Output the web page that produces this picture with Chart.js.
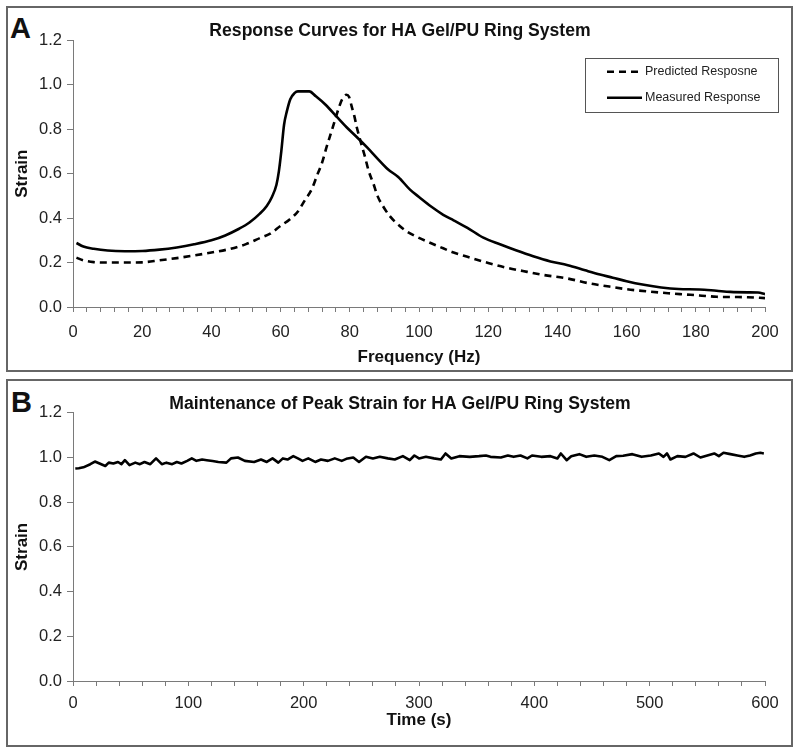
<!DOCTYPE html>
<html><head><meta charset="utf-8">
<script src="https://cdn.jsdelivr.net/npm/chart.js@4.4.1/dist/chart.umd.min.js"></script>
<style>
html,body{margin:0;padding:0;background:#fff;width:800px;height:754px;overflow:hidden;}
.cv{position:absolute;left:0;}
.box{position:absolute;box-sizing:border-box;border:2px solid #666;pointer-events:none;}
.lab{position:absolute;font:bold 29px "Liberation Sans",Arial,sans-serif;line-height:29px;color:#111;}
</style></head><body>
<div class="box" style="left:6px;top:6px;width:787px;height:366px"></div>
<div class="box" style="left:6px;top:379px;width:787px;height:368px"></div>
<div class="lab" style="left:10px;top:13.8px">A</div>
<div class="lab" style="left:11px;top:388.2px">B</div>
<div class="cv" style="top:0;width:800px;height:376px"><canvas id="chartA"></canvas></div>
<div class="cv" style="top:376px;width:800px;height:378px"><canvas id="chartB"></canvas></div>
<script>
// ---- Panel A data ----
const titleA = 'Response Curves for HA Gel/PU Ring System';
const xTitleA = 'Frequency (Hz)';
const seriesNamesA = ['Predicted Resposne', 'Measured Response'];
const freqPred = [1,3,6,10,15,20,25,30,35,40,45,50,54,57,60,62.7,65,67,69,70.5,72,73.3,74.5,75.7,76.8,77.8,79,79.8,80.5,81.3,82,83.2,84.4,85.5,86.8,88,89.7,91.5,93.6,96,99.3,103,107,110,114,120,125,130,136,142.7,149,155,160,166.8,172,176.4,181,186,190,195,200];
const strainPred = [0.222,0.210,0.202,0.200,0.200,0.201,0.210,0.220,0.232,0.245,0.260,0.283,0.310,0.330,0.365,0.395,0.430,0.480,0.530,0.590,0.650,0.720,0.780,0.840,0.895,0.935,0.955,0.945,0.905,0.860,0.810,0.740,0.675,0.610,0.556,0.500,0.451,0.410,0.376,0.345,0.316,0.290,0.264,0.245,0.226,0.198,0.178,0.162,0.144,0.129,0.107,0.092,0.080,0.069,0.062,0.057,0.052,0.046,0.045,0.044,0.040];
const freqMeas = [1,3,6,10,15,20,25,30,35,40,44,48,51,54,56,57.5,58.8,59.5,60.2,61,61.8,62.8,64,65,66.5,68.3,70.2,73,76,79,82,85,88,91,94,97.4,100,103.5,107,110,114,118.6,123.4,128,133,138,143,148,152.3,156,160,165,170,175,181,186,190,195,198,200];
const strainMeas = [0.288,0.272,0.262,0.254,0.251,0.252,0.258,0.268,0.282,0.300,0.322,0.352,0.380,0.420,0.455,0.495,0.550,0.610,0.700,0.820,0.880,0.935,0.962,0.970,0.970,0.970,0.948,0.910,0.860,0.810,0.765,0.718,0.668,0.620,0.585,0.528,0.495,0.452,0.415,0.390,0.356,0.312,0.282,0.255,0.228,0.205,0.188,0.165,0.146,0.132,0.116,0.100,0.088,0.081,0.079,0.073,0.068,0.066,0.065,0.058];

// ---- Panel B data ----
const titleB = 'Maintenance of Peak Strain for HA Gel/PU Ring System';
const xTitleB = 'Time (s)';
const timeB = [2,5,9,15,19,23,28,31,35,39,42,45,49,54,58,62,67,72,77,81,86,90,94,99,103,107,112,116,121,126,133,137,143,149,157,163,168,173,178,182,186,191,195,199,204,210,215,221,227,233,237,243,248,254,260,266,273,279,286,292,296,300,306,313,319,323,328,335,344,352,358,362,371,377,382,388,394,398,406,414,420,423,428,432,439,445,452,459,465,471,477,485,493,501,508,512,515,518,524,531,538,544,550,556,560,564,570,576,582,587,592,596,599];
const strainB = [0.951,0.952,0.956,0.970,0.982,0.973,0.962,0.977,0.973,0.980,0.970,0.988,0.966,0.977,0.970,0.980,0.970,0.996,0.970,0.977,0.970,0.980,0.973,0.985,0.996,0.985,0.991,0.988,0.984,0.980,0.977,0.996,1.000,0.985,0.980,0.991,0.980,0.996,0.977,0.996,0.991,1.006,0.996,0.985,0.996,0.980,0.991,0.985,0.996,0.985,0.994,1.000,0.980,1.003,0.996,1.003,0.996,0.991,1.006,0.988,1.009,0.996,1.003,0.996,0.991,1.018,0.996,1.006,1.003,1.006,1.009,1.003,1.000,1.009,1.003,1.009,0.996,1.009,1.003,1.006,0.996,1.018,0.988,1.006,1.015,1.003,1.009,1.003,0.988,1.006,1.008,1.015,1.003,1.009,1.018,1.003,1.018,0.991,1.006,1.003,1.018,1.000,1.009,1.018,1.006,1.021,1.015,1.009,1.003,1.009,1.018,1.021,1.018];

// ---- Axis tick definitions ----
const yMin = 0, yMax = 1.2, yStep = 0.2;
const xA = {min:0, max:200, minorStep:4, labelStep:20};
const xB = {min:0, max:600, minorStep:20, labelStep:100};

const FF = '"Liberation Sans", Arial, sans-serif';
const AX = '#7a7a7a';
const TXT = '#222';

const boxLegend = {
  id: 'boxLegend',
  afterDatasetsDraw(chart, args, o) {
    if (!o || !o.show) return;
    const ctx = chart.ctx;
    ctx.save();
    ctx.strokeStyle = '#555'; ctx.lineWidth = 1; ctx.setLineDash([]);
    ctx.strokeRect(o.x + 0.5, o.y + 0.5, o.w, o.h);
    ctx.font = '12.5px ' + FF; ctx.fillStyle = TXT; ctx.textBaseline = 'middle'; ctx.textAlign = 'left';
    chart.data.datasets.forEach((ds, i) => {
      const y = o.y + o.rowY[i];
      ctx.beginPath();
      ctx.setLineDash(ds.borderDash || []);
      ctx.lineWidth = ds.borderWidth; ctx.strokeStyle = ds.borderColor;
      ctx.moveTo(o.x + o.lx0, y); ctx.lineTo(o.x + o.lx1, y); ctx.stroke();
      ctx.setLineDash([]);
      ctx.fillText(ds.label, o.x + o.tx, y);
    });
    ctx.restore();
  }
};

function yScale() {
  return {
    min: yMin, max: yMax,
    afterFit(s) { s.width = 65; },
    border: {display: true, color: AX, width: 1},
    grid: {drawOnChartArea: false, drawTicks: true, tickLength: 6, color: AX},
    ticks: {stepSize: yStep, padding: 5, color: TXT, font: {size: 16.5, family: FF}, callback: v => v.toFixed(1)},
    title: {display: true, text: 'Strain', color: '#111', font: {size: 17, weight: 'bold', family: FF, lineHeight: 1}, padding: {top: 5.5}}
  };
}
// invisible spacer on the right so the title centres on the full panel
function spacerScale() {
  return {
    position: 'right', min: yMin, max: yMax, display: true,
    afterFit(s) { s.width = 27; },
    border: {display: false}, grid: {display: false}, ticks: {display: false}
  };
}
function xScale(def, text, h, tickPad, tpad) {
  return {
    type: 'linear', min: def.min, max: def.max,
    afterFit(s) { s.height = h; },
    border: {display: true, color: AX, width: 1},
    grid: {drawOnChartArea: false, drawTicks: true, tickLength: 5, color: AX},
    ticks: {stepSize: def.minorStep, autoSkip: false, maxRotation: 0, padding: tickPad, color: TXT, font: {size: 16.5, family: FF},
      callback: v => (Math.round(v) % def.labelStep === 0 ? String(Math.round(v)) : '')},
    title: {display: true, text: text, color: '#111', font: {size: 17, weight: 'bold', family: FF, lineHeight: 1}, padding: {top: 0, bottom: tpad}}
  };
}
function titleOpt(text, top) {
  return {display: true, text: text, color: '#111', font: {size: 17.6, weight: 'bold', family: FF, lineHeight: 1}, padding: {top: top, bottom: 0}};
}
const pts = (xs, ys) => xs.map((x, i) => ({x: x, y: ys[i]}));

new Chart(document.getElementById('chartA'), {
  type: 'line',
  data: {datasets: [
    {label: seriesNamesA[0], data: pts(freqPred, strainPred), borderColor: '#000', borderWidth: 2.6, borderDash: [7, 5], pointRadius: 0, cubicInterpolationMode: 'monotone', fill: false},
    {label: seriesNamesA[1], data: pts(freqMeas, strainMeas), borderColor: '#000', borderWidth: 2.6, pointRadius: 0, cubicInterpolationMode: 'monotone', fill: false}
  ]},
  options: {
    responsive: true, maintainAspectRatio: false, animation: false,
    layout: {padding: {left: 8, right: 8, top: 0, bottom: 0}},
    plugins: {legend: {display: false}, tooltip: {enabled: false}, title: titleOpt(titleA, 22.7),
      boxLegend: {show: true, x: 585, y: 58, w: 193, h: 54, rowY: [13.7, 39.7], lx0: 22, lx1: 57, tx: 60}},
    scales: {x: xScale(xA, xTitleA, 69, 11, 10.5), y: yScale(), y2: spacerScale()}
  },
  plugins: [boxLegend]
});

new Chart(document.getElementById('chartB'), {
  type: 'line',
  data: {datasets: [
    {label: 'Strain', data: pts(timeB, strainB), borderColor: '#000', borderWidth: 2.6, pointRadius: 0, tension: 0, borderJoinStyle: 'round', fill: false}
  ]},
  options: {
    responsive: true, maintainAspectRatio: false, animation: false,
    layout: {padding: {left: 8, right: 8, top: 0, bottom: 0}},
    plugins: {legend: {display: false}, tooltip: {enabled: false}, title: titleOpt(titleB, 19.2)},
    scales: {x: xScale(xB, xTitleB, 73, 8, 25.5), y: yScale(), y2: spacerScale()}
  }
});
</script>
</body></html>
